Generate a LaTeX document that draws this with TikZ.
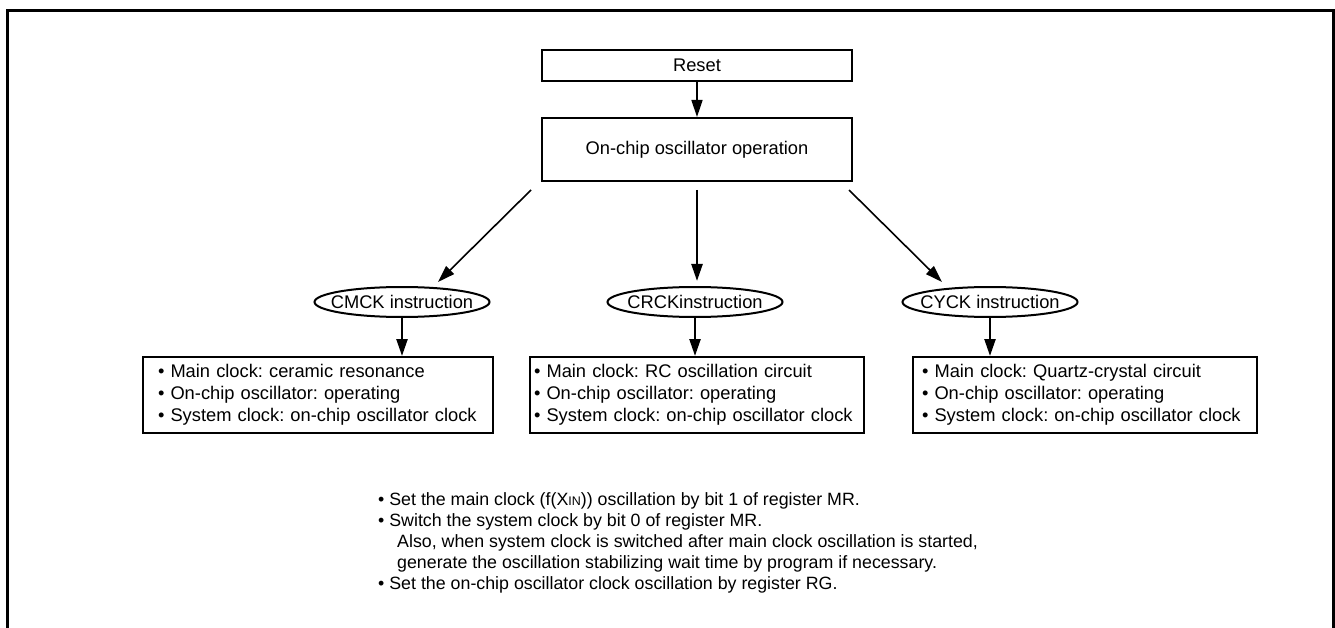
\documentclass[tikz,border=0pt]{standalone}
\usepackage{fontspec}
\setmainfont{Liberation Sans}
\usetikzlibrary{positioning,arrows.meta}
\usetikzlibrary{shapes.geometric}
\frenchspacing

\begin{document}
\begin{tikzpicture}[x=1pt,y=-1pt,
  every node/.style={font=\fontsize{18.3}{22}\selectfont},
  stbox/.style={draw,line width=2pt,inner sep=0pt},
  listbox/.style={draw,line width=2pt,align=left,minimum height=76pt,inner ysep=0pt},
  inst/.style={ellipse,draw,line width=2pt,minimum width=175pt,minimum height=30pt,inner sep=0pt},
  arr/.style={-{Triangle[length=17pt,width=11pt]},line width=2.4pt},
  darr/.style={-{Triangle[length=17pt,width=11pt]},line width=1.6pt}]
  \useasboundingbox (0,0) rectangle (1335,628);
  \draw[line width=3pt] (7.5,628) -- (7.5,10.5) -- (1333.5,10.5) -- (1333.5,628);

  \node[stbox,minimum width=310pt,minimum height=31pt] (reset) at (697,65.5) {Reset};
  \node[stbox,minimum width=310pt,minimum height=63pt] (onchip) at (697,149.5) {On-chip oscillator operation};

  \node[inst] (cmck) at (402,302) {\makebox[0pt]{CMCK instruction}};
  \node[inst] (crck) at (695,302) {\makebox[0pt]{CRCKinstruction}};
  \node[inst] (cyck) at (990,302) {\makebox[0pt]{CYCK instruction}};

  \node[listbox,inner xsep=15pt,text width=320pt] (cmckbox) at (318,395)
    {• Main clock: ceramic resonance\\• On-chip oscillator: operating\\• System clock: on-chip oscillator clock};
  \node[listbox,inner xsep=4pt,text width=326pt] (crckbox) at (697,395)
    {• Main clock: RC oscillation circuit\\• On-chip oscillator: operating\\• System clock: on-chip oscillator clock};
  \node[listbox,inner xsep=9pt,text width=326pt] (cyckbox) at (1085,395)
    {• Main clock: Quartz-crystal circuit\\• On-chip oscillator: operating\\• System clock: on-chip oscillator clock};

  \draw[darr] (reset.south) -- (onchip.north);
  \draw[darr] ([xshift=-10pt,yshift=-8pt]onchip.south west) -- ([xshift=36pt,yshift=4pt]cmck.north);
  \draw[arr] ([yshift=-8pt]onchip.south) -- ([yshift=5pt]onchip.south |- crck.north);
  \draw[darr] ([xshift=-4pt,yshift=-8pt]onchip.south east) -- ([xshift=-48pt,yshift=4pt]cyck.north);
  \draw[arr] (cmck.south) -- (cmck.south |- cmckbox.north);
  \draw[arr] (crck.south) -- (crck.south |- crckbox.north);
  \draw[arr] (cyck.south) -- (cyck.south |- cyckbox.north);

  \node[anchor=north west,align=left,inner sep=0pt,font=\fontsize{17.8}{21}\selectfont] (notes) at (378,492)
    {• Set the main clock (f(X{\fontsize{12.5}{12}\selectfont IN})) oscillation by bit 1 of register MR.\\
     • Switch the system clock by bit 0 of register MR.\\
     \hspace*{19pt}Also, when system clock is switched after main clock oscillation is started,\\
     \hspace*{19pt}generate the oscillation stabilizing wait time by program if necessary.\\
     • Set the on-chip oscillator clock oscillation by register RG.};
\end{tikzpicture}
\end{document}
